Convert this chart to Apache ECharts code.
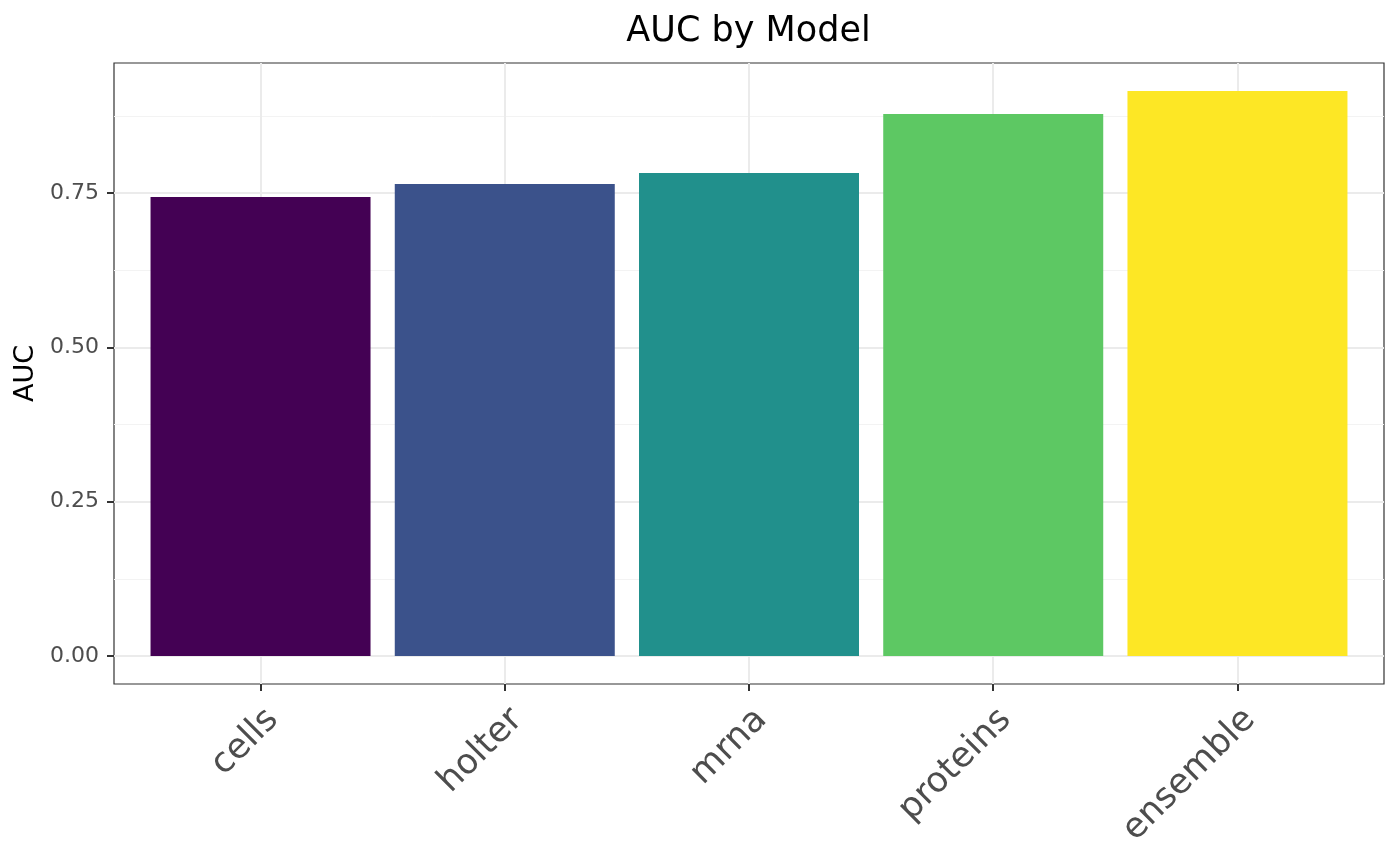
<!DOCTYPE html>
<html>
<head>
<meta charset="utf-8">
<script src="https://cdn.jsdelivr.net/npm/echarts@6/dist/echarts.min.js"></script>
<style>html,body{margin:0;padding:0;background:#fff}#c{width:1400px;height:866px}</style>
</head>
<body>
<div id="c"></div>
<script>
const categories = ['cells', 'holter', 'mrna', 'proteins', 'ensemble'];
const aucValues = [0.7436, 0.7646, 0.7824, 0.8780, 0.9153];
const yMajorTicks = [0, 0.25, 0.5, 0.75];
const yMinorTicks = [0.125, 0.375, 0.625, 0.875];
const palette = ['#440154', '#3B528B', '#21908C', '#5DC863', '#FDE725'];

const FONT = 'DejaVu Sans';
const xIdx = categories.map((_, i) => i);
const chart = echarts.init(document.getElementById('c'), null, {renderer: 'canvas'});
const yMin = -0.0454, yMax = 0.9606;
chart.setOption({
  animation: false,
  backgroundColor: '#ffffff',
  title: {
    text: 'AUC by Model', left: 743.5, textAlign: 'center', top: 9,
    textStyle: {fontFamily: FONT, fontSize: 35, fontWeight: 'normal', color: '#000'}
  },
  grid: {left: 114, right: 16, top: 63, bottom: 182, show: true, borderColor: '#333333', borderWidth: 1.2, backgroundColor: 'transparent'},
  xAxis: {
    type: 'value', min: -0.6, max: 4.6,
    axisLine: {show: false, onZero: false},
    axisTick: {show: true, length: 7, lineStyle: {color: '#333333', width: 2}, customValues: xIdx},
    axisLabel: {
      customValues: xIdx, rotate: 45, margin: 18, verticalAlign: 'top',
      fontFamily: FONT, fontSize: 35, color: '#4D4D4D',
      formatter: v => categories[Math.round(v)]
    },
    splitLine: {show: true, lineStyle: {color: '#EBEBEB', width: 2}}
  },
  yAxis: [{
    type: 'value', min: yMin, max: yMax, name: 'AUC', nameLocation: 'middle', nameGap: 74, nameRotate: 90,
    nameTextStyle: {fontFamily: FONT, fontSize: 27, color: '#000'},
    axisLine: {show: false, onZero: false},
    axisTick: {show: true, length: 7, lineStyle: {color: '#333333', width: 2}, customValues: yMajorTicks},
    axisLabel: {customValues: yMajorTicks, margin: 15, fontFamily: FONT, fontSize: 22, color: '#4D4D4D',
      formatter: v => v.toFixed(2)},
    splitLine: {show: true, lineStyle: {color: '#EBEBEB', width: 2}}
  }, {
    type: 'value', min: yMin, max: yMax, position: 'left',
    axisLine: {show: false, onZero: false},
    axisTick: {show: false, customValues: yMinorTicks},
    axisLabel: {show: false, customValues: yMinorTicks},
    splitLine: {show: true, lineStyle: {color: '#F3F3F3', width: 1}}
  }],
  series: [{
    type: 'bar', yAxisIndex: 0, barWidth: 220,
    data: aucValues.map((v, i) => ({value: [i, v], itemStyle: {color: palette[i]}}))
  }]
});
</script>
</body>
</html>
